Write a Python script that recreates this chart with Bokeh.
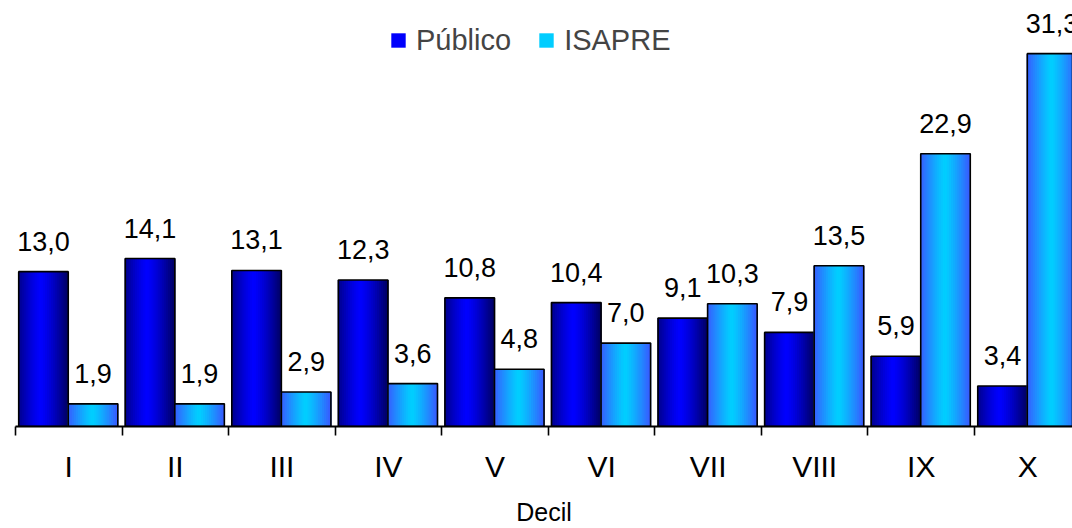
from bokeh.plotting import figure
from bokeh.models import (ColumnDataSource, Range1d, FixedTicker, LabelSet,
                          Legend, LegendItem)
from bokeh.core.properties import value
from bokeh.embed import file_html
from bokeh.resources import INLINE

# ---- data ----
deciles = ["I", "II", "III", "IV", "V", "VI", "VII", "VIII", "IX", "X"]
publico = [13.0, 14.1, 13.1, 12.3, 10.8, 10.4, 9.1, 7.9, 5.9, 3.4]
isapre = [1.9, 1.9, 2.9, 3.6, 4.8, 7.0, 10.3, 13.5, 22.9, 31.3]
series_names = ["Público", "ISAPRE"]

# ---- layout constants ----
PX_PER_CAT = 106.56
FRAME_W = 1072 - 15
BAR_W = 0.465
OFFSETS = [0.03, 0.495]
N = 24
FONT = "Liberation Sans"

p = figure(width=1072, height=528, output_backend="svg", toolbar_location=None,
           x_range=Range1d(0, FRAME_W / PX_PER_CAT), y_range=Range1d(0, 35.76),
           y_axis_location=None,
           min_border_left=15, min_border_right=0, min_border_top=0,
           min_border_bottom=100)
p.xgrid.visible = False
p.ygrid.visible = False
p.outline_line_color = None
p.background_fill_color = "white"
p.border_fill_color = "white"


def strip_data(values, offset, center, edge, peak, power):
    xs, tops, cols = [], [], []
    for i, v in enumerate(values):
        for k in range(N):
            t = (k + 0.5) / N
            d = abs(t - peak) / max(peak, 1 - peak)
            f = d ** power
            c = tuple(int(round(a + (b - a) * f)) for a, b in zip(center, edge))
            xs.append(i + offset + BAR_W * t)
            tops.append(v)
            cols.append("#%02x%02x%02x" % c)
    return dict(x=xs, top=tops, color=cols)


styles = [
    dict(center=(0, 0, 255), edge=(0, 0, 100), peak=0.45, power=1.3),
    dict(center=(0, 208, 255), edge=(56, 90, 255), peak=0.5, power=1.2),
]

legend_items = []
for values, off, st, name in zip([publico, isapre], OFFSETS, styles, series_names):
    src = ColumnDataSource(strip_data(values, off, **st))
    r = p.vbar(x="x", top="top", bottom=0, width=BAR_W / N * 1.6, source=src,
               fill_color="color", line_color=None)
    centers = [i + off + BAR_W / 2 for i in range(len(values))]
    osrc = ColumnDataSource(dict(x=centers, top=values,
                                 text=[f"{v:.1f}".replace(".", ",") for v in values]))
    o = p.vbar(x="x", top="top", bottom=0, width=BAR_W, source=osrc,
               fill_color=None, line_color="black", line_width=1.6)
    labels = LabelSet(x="x", y="top", text="text", source=osrc, text_align="center",
                      text_baseline="alphabetic", y_offset=21,
                      text_font=value(FONT), text_font_size="27px", text_color="black")
    p.add_layout(labels)
    legend_items.append(LegendItem(label=name, renderers=[r, o], index=N // 2 - 1))

legend = Legend(items=legend_items, orientation="horizontal", location=(374, 369),
                padding=0, margin=0, spacing=26, label_standoff=9,
                glyph_width=18, glyph_height=18, label_height=34,
                label_text_font=FONT, label_text_font_size="29px",
                background_fill_alpha=0, border_line_color=None)
p.add_layout(legend)

ax = p.xaxis[0]
ax.ticker = FixedTicker(ticks=[i + 0.5 for i in range(len(deciles))],
                        minor_ticks=list(range(len(deciles) + 1)))
ax.major_label_overrides = {i + 0.5: d for i, d in enumerate(deciles)}
ax.major_tick_line_color = None
ax.major_tick_in = 0
ax.major_tick_out = 9
ax.minor_tick_in = 0
ax.minor_tick_out = 9
ax.minor_tick_line_color = "black"
ax.minor_tick_line_width = 1.6
ax.axis_line_color = "black"
ax.axis_line_width = 1.8
ax.major_label_standoff = 14
ax.major_label_text_font = FONT
ax.major_label_text_font_size = "30px"
ax.major_label_text_color = "black"
ax.axis_label = "Decil"
ax.axis_label_standoff = 12
ax.axis_label_text_font = FONT
ax.axis_label_text_font_size = "25px"
ax.axis_label_text_font_style = "normal"
ax.axis_label_text_color = "black"

open("out.html", "w").write(file_html(p, INLINE))
